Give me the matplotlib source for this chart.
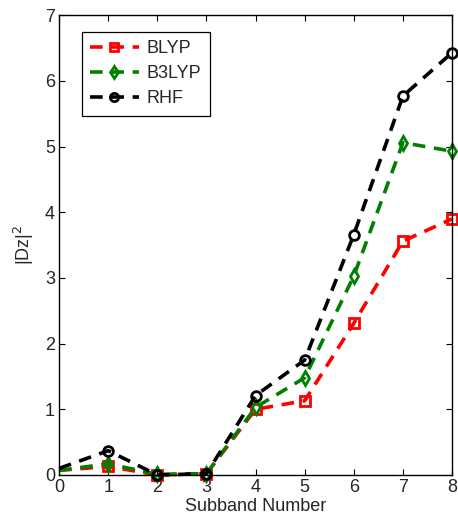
import matplotlib

matplotlib.use("Agg")
import matplotlib.pyplot as plt

plt.rcParams["font.family"] = ["Liberation Sans", "DejaVu Sans"]

subband = [0, 1, 2, 3, 4, 5, 6, 7, 8]
blyp = [0.07, 0.13, 0.0, 0.02, 1.0, 1.13, 2.31, 3.56, 3.90]
b3lyp = [0.07, 0.17, 0.01, 0.02, 1.03, 1.48, 3.03, 5.06, 4.93]
rhf = [0.10, 0.37, 0.0, 0.02, 1.21, 1.75, 3.66, 5.77, 6.43]

series = [
    ("BLYP", blyp, "red", "s"),
    ("B3LYP", b3lyp, "green", "d"),
    ("RHF", rhf, "black", "o"),
]

text_color = "#262626"

fig = plt.figure(figsize=(4.58, 5.26), dpi=100)
ax = fig.add_axes([0.129, 0.097, 0.858, 0.874])

for label, values, color, marker in series:
    ax.plot(
        subband,
        values,
        color=color,
        linestyle=(0, (3.5, 2.4)),
        linewidth=2.6,
        marker=marker,
        markevery=list(range(1, len(subband))),
        markersize=7,
        markerfacecolor="none",
        markeredgewidth=2.0,
        markeredgecolor=color,
        label=label,
        clip_on=False,
    )

ax.set_xlim(0, 8)
ax.set_ylim(0, 7)
ax.set_xticks(range(0, 9))
ax.set_yticks(range(0, 8))
ax.tick_params(direction="in", top=True, right=True, labelsize=13,
               length=4, width=0.8, labelcolor=text_color, pad=3)
for spine in ax.spines.values():
    spine.set_linewidth(1.0)

ax.set_xlabel("Subband Number", fontsize=13, labelpad=1, color=text_color)
ax.set_ylabel("|Dz|$^2$", fontsize=13, labelpad=6, color=text_color)

leg = ax.legend(
    loc="upper left",
    bbox_to_anchor=(0.035, 0.983),
    fontsize=13,
    fancybox=False,
    edgecolor="black",
    framealpha=1,
    markerscale=0.85,
    handlelength=2.7,
    handletextpad=0.45,
    borderpad=0.45,
    labelspacing=0.45,
)
leg.get_frame().set_linewidth(0.9)
for txt in leg.get_texts():
    txt.set_color(text_color)

fig.savefig("out.png", dpi=100)
plt.close(fig)
